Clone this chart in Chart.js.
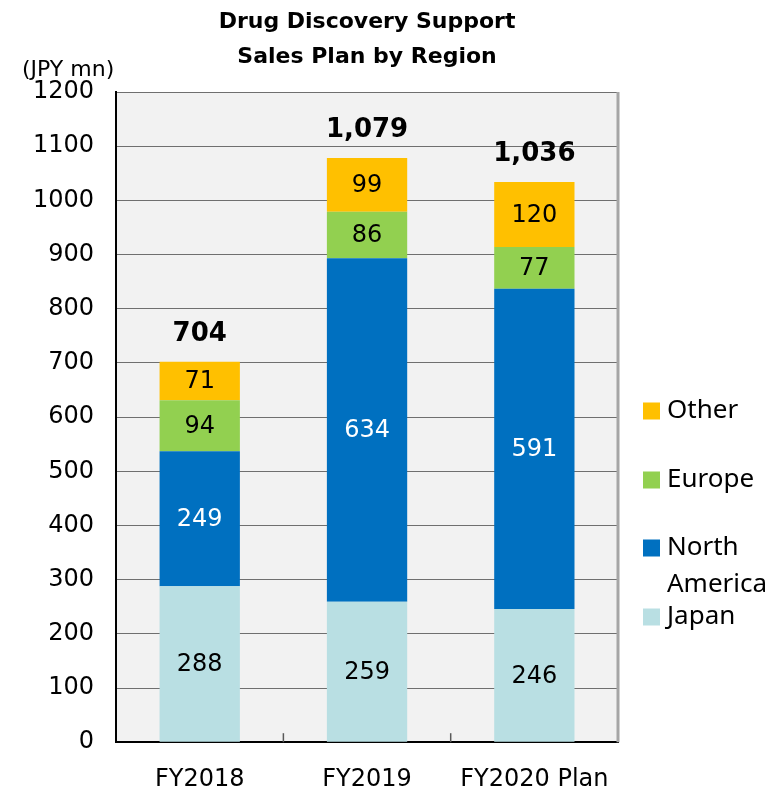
<!DOCTYPE html>
<html>
<head>
<meta charset="utf-8">
<title>Drug Discovery Support Sales Plan by Region</title>
<script src="https://cdn.jsdelivr.net/npm/chart.js"></script>
<style>
  body { margin: 0; background: #fff; }
  #wrap { width: 782px; height: 789px; position: relative; }
</style>
</head>
<body>
<div id="wrap"><canvas id="myChart"></canvas></div>
<script>
const ctx = document.getElementById("myChart").getContext("2d");

const categories = ["FY2018", "FY2019", "FY2020 Plan"];
const japan = [288, 259, 246];
const northAmerica = [249, 634, 591];
const europe = [94, 86, 77];
const other = [71, 99, 120];
const totals = ["704", "1,079", "1,036"];

// legend text, top to bottom (a line break is drawn as a second line)
const legendItems = [
  { label: ["Other"], color: "#FFC000" },
  { label: ["Europe"], color: "#92D050" },
  { label: ["North", "America"], color: "#0070C0" },
  { label: ["Japan"], color: "#B9DFE3" },
];

const tickFont = { family: "DejaVu Sans", size: 24 };

const extras = {
  id: "extras",
  beforeDraw(chart) {
    const a = chart.chartArea;
    const c = chart.ctx;
    c.save();
    c.fillStyle = "#F2F2F2";
    c.fillRect(a.left, a.top, a.right - a.left, a.bottom - a.top);
    c.restore();
  },
  afterDatasetsDraw(chart) {
    const c = chart.ctx;
    c.save();
    c.textAlign = "center";
    c.textBaseline = "middle";
    c.font = "24px 'DejaVu Sans'";
    chart.data.datasets.forEach((ds, di) => {
      const meta = chart.getDatasetMeta(di);
      meta.data.forEach((bar, i) => {
        c.fillStyle = ds.labelColor;
        c.fillText(ds.data[i], bar.x, (bar.y + bar.base) / 2 + 1);
      });
    });
    // totals above the stacks
    const top = chart.getDatasetMeta(chart.data.datasets.length - 1);
    c.font = "bold 26px 'DejaVu Sans'";
    c.fillStyle = "#000";
    top.data.forEach((bar, i) => {
      c.fillText(totals[i], bar.x, bar.y - 28);
    });
    c.restore();
  },
  afterDraw(chart) {
    const a = chart.chartArea;
    const c = chart.ctx;
    const x = chart.scales.x;
    c.save();
    // right edge of the plot frame
    c.strokeStyle = "#A6A6A6";
    c.lineWidth = 3;
    c.beginPath();
    c.moveTo(a.right, a.top);
    c.lineTo(a.right, a.bottom);
    c.stroke();
    // small inner ticks between categories
    c.strokeStyle = "#595959";
    c.lineWidth = 1.5;
    for (let i = 1; i < categories.length; i++) {
      const px = (x.getPixelForTick(i - 1) + x.getPixelForTick(i)) / 2;
      c.beginPath();
      c.moveTo(px, a.bottom);
      c.lineTo(px, a.bottom - 9);
      c.stroke();
    }
    // title
    const cx = (a.left + a.right) / 2;
    c.fillStyle = "#000";
    c.textAlign = "center";
    c.textBaseline = "middle";
    c.font = "bold 22px 'DejaVu Sans'";
    c.fillText("Drug Discovery Support", cx, 22);
    c.fillText("Sales Plan by Region", cx, 57);
    // unit
    c.font = "22px 'DejaVu Sans'";
    c.textAlign = "left";
    c.fillText("(JPY mn)", 22, 70);
    // legend
    c.font = "26px 'Noto Sans'";
    const lx = a.right + 25;
    const ys = [411, 480, 548, 617];
    legendItems.forEach((item, i) => {
      c.fillStyle = item.color;
      c.fillRect(lx, ys[i] - 8.5, 17, 17);
      c.fillStyle = "#000";
      item.label.forEach((t, j) => {
        c.fillText(t, lx + 24, ys[i] + j * 37);
      });
    });
    c.restore();
  },
};

const myChart = new Chart(ctx, {
  type: "bar",
  data: {
    labels: categories,
    datasets: [
      { label: "Japan", data: japan, backgroundColor: "#B9DFE3", labelColor: "#000" },
      { label: "North America", data: northAmerica, backgroundColor: "#0070C0", labelColor: "#fff" },
      { label: "Europe", data: europe, backgroundColor: "#92D050", labelColor: "#000" },
      { label: "Other", data: other, backgroundColor: "#FFC000", labelColor: "#000" },
    ],
  },
  options: {
    responsive: true,
    maintainAspectRatio: false,
    animation: false,
    categoryPercentage: 1,
    barPercentage: 0.48,
    layout: {
      padding: { top: 92, left: 11, right: 164, bottom: -20 },
    },
    plugins: {
      legend: { display: false },
      tooltip: { enabled: false },
    },
    scales: {
      x: {
        stacked: true,
        grid: { display: false },
        border: { color: "#000", width: 2 },
        ticks: { font: tickFont, color: "#000", padding: 15, maxRotation: 0 },
      },
      y: {
        stacked: true,
        min: 0,
        max: 1200,
        grid: { color: "#6F6F6F", drawTicks: false },
        border: { color: "#000", width: 2 },
        ticks: {
          stepSize: 100,
          font: tickFont,
          color: "#000",
          padding: 22,
          callback: (v) => String(v),
        },
      },
    },
  },
  plugins: [extras],
});
</script>
</body>
</html>
